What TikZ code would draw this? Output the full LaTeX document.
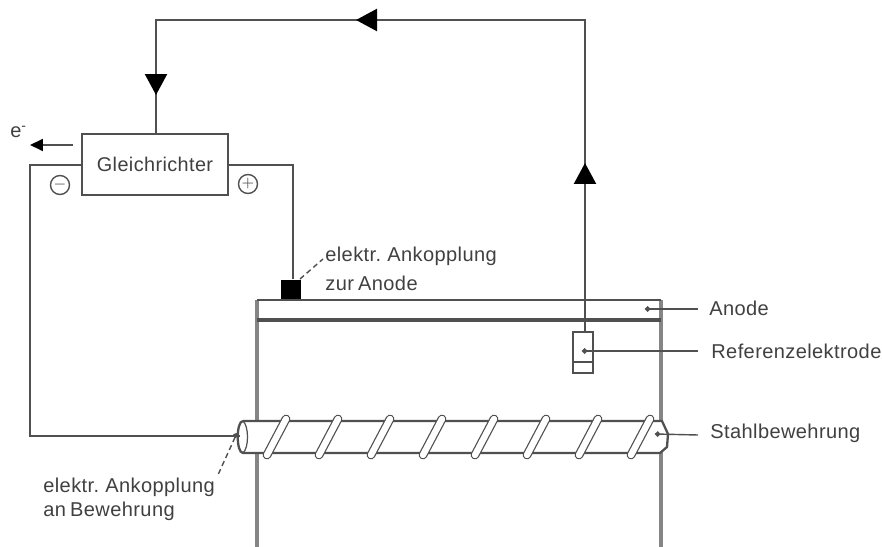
\documentclass[tikz,border=0pt]{standalone}
\usepackage{fontspec}
\setmainfont[LetterSpace=2,WordSpace=0.7]{Liberation Sans}
\usetikzlibrary{arrows.meta}
\definecolor{wiregray}{HTML}{505050}
\definecolor{framegray}{HTML}{858585}
\definecolor{labelgray}{HTML}{404040}
\tikzset{
	wire/.style={draw=wiregray, line width=1.3pt},
	framewall/.style={draw=framegray, line width=1.8pt},
	leader/.style={draw=wiregray, line width=0.8pt},
	flow/.style={wire, -{Triangle[length=0.42cm, width=0.44cm, color=black]}},
	tag/.style={text=labelgray, font=\fontsize{11.4}{13}\selectfont, inner sep=0pt, anchor=west},
	wrapband/.style={draw=wiregray, line width=0.7pt, double=white, double distance=3.6pt, line cap=round},
	pole/.style={draw=wiregray, circle, line width=0.8pt, minimum size=0.38cm, inner sep=0pt, text=labelgray, font=\small},
}
\begin{document}
\begin{tikzpicture}[x=0.02cm, y=-0.02cm]
	\useasboundingbox (0,0) rectangle (882,547);

	% concrete block
	\draw[framewall] (257,547) -- (257,300);
	\draw[framewall] (661,300) -- (661,547);
	\draw[draw=wiregray, line width=1pt] (257,300) -- (661,300);
	\draw[draw=wiregray, line width=2pt] (257,320) -- (661,320);

	% rebar
	\draw[wire, fill=white] (243,421) -- (662,421) -- (668,434) -- (667,447) -- (660,453) -- (243,453)
		.. controls (236,453) and (236,421) .. (243,421);
	\draw[draw=wiregray, line width=0.7pt] (243,421) .. controls (249,426) and (249,448) .. (243,453);
	\foreach \x in {267,319,371,423,475,527,579,631} {
		\draw[wrapband] (\x,455) -- (\x+19,419);
	}

	% rectifier and parts
	\node[draw=wiregray, line width=1.5pt, fill=white, minimum width=2.92cm, minimum height=1.22cm, text=labelgray, font=\fontsize{11.3}{13}\selectfont] (rectifier) at (155,164.5) {Gleichrichter};
	\node[draw=none, fill=black, minimum size=0.4cm, inner sep=0pt] (anodepad) at (291,289.5) {};
	\node[draw=wiregray, line width=0.8pt, fill=white, minimum width=0.4cm, minimum height=0.82cm, inner sep=0pt] (refcell) at (583,352.5) {};
	\draw[draw=wiregray, line width=0.8pt] (573,362) -- (593,362);

	\coordinate (wirefeed) at (156,134);
	\coordinate (cornerleft) at (156,20);
	\coordinate (cornerright) at (585,20);
	\coordinate (downtip) at (156,95);
	\coordinate (lefttip) at (356,20);
	\coordinate (uptip) at (585,163);
	\coordinate (minusout) at (82,165);
	\coordinate (minuscorner) at (30,165);
	\coordinate (rebarcorner) at (30,436);
	\coordinate (rebarend) at (240,436);
	\coordinate (plusout) at (228,165);
	\coordinate (pluscorner) at (293,165);

	% circuit
	\draw[wire] (wirefeed) -- (cornerleft) -- (cornerright) -- (refcell.north -| cornerright);
	\draw[flow] (cornerleft) -- (downtip);
	\draw[flow] (cornerright) -- (lefttip);
	\draw[flow] (refcell.north -| cornerright) -- (uptip);
	\draw[wire] (minusout) -- (minuscorner) -- (rebarcorner) -- (rebarend);
	\draw[wire] (plusout) -- (pluscorner) -- (anodepad.north -| pluscorner);

	% electron flow
	\node[tag] (electron) at (10,132) {e\textsuperscript{-}};
	\coordinate (electronstart) at (73,145);
	\coordinate (electronend) at (30,145);
	\draw[wire, line width=1pt, -{Triangle[length=0.26cm, width=0.24cm, color=black]}] (electronstart) -- (electronend);

	% poles
	\node[pole] (minus) at (60,185) {$-$};
	\node[pole] (plus) at (248,184) {$+$};

	% labels
	\node[tag] (pad1) at (325,256) {elektr. Ankopplung};
	\node[tag] (pad2) at (325,283) {zur Anode};
	\node[tag] (bar1) at (43,487) {elektr. Ankopplung};
	\node[tag] (bar2) at (43,511) {an Bewehrung};
	\node[tag] (anode) at (709,308) {Anode};
	\node[tag] (refel) at (711,351) {Referenzelektrode};
	\node[tag] (steel) at (710,433) {Stahlbewehrung};

	\coordinate (anodedot) at (645,309);
	\coordinate (refdot) at (582,351);
	\coordinate (steeldot) at (655,434);
	\coordinate (paddot) at (300,279);
	\coordinate (padend) at (323,259);
	\coordinate (bardot) at (237,433);
	\coordinate (barend) at (217,477);

	% leaders
	\draw[leader, {Circle[length=3pt]}-] (anodedot) -- (698,309);
	\draw[leader, {Circle[length=3pt]}-] (refdot) -- (698,351);
	\draw[leader, {Circle[length=3pt]}-] (steeldot) -- (698,435);
	\draw[leader, densely dashed] (paddot) -- (padend);
	\draw[leader, densely dashed, {Circle[length=3pt]}-] (bardot) -- (barend);
\end{tikzpicture}
\end{document}
